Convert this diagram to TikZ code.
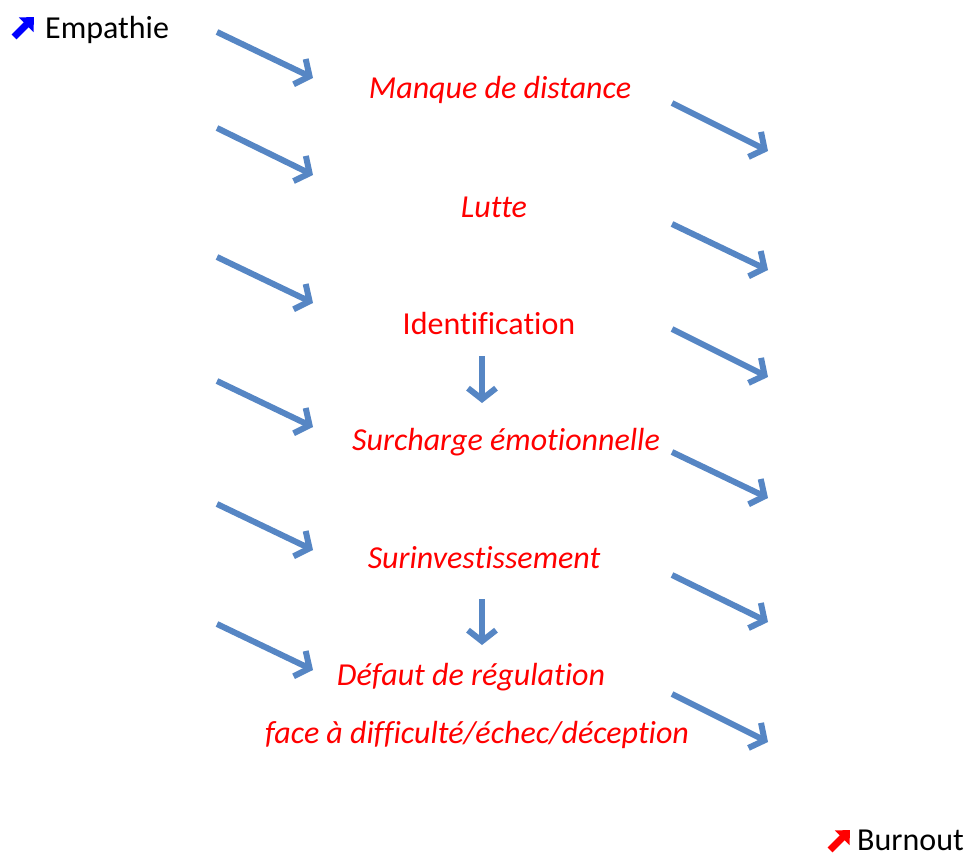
\documentclass[tikz,border=0pt]{standalone}
\usepackage{fontspec}
\setmainfont[Ligatures=NoCommon]{Carlito}
\usetikzlibrary{arrows.meta}
\newlength{\du}
\setlength{\du}{1pt}
\definecolor{arrowblue}{RGB}{86,134,196}
\definecolor{textred}{RGB}{255,0,0}
\definecolor{iconblue}{RGB}{0,0,255}
\tikzset{
  flow/.style={draw=arrowblue, line width=6pt, -{Straight Barb[length=11pt, width=28pt]}},
  icon/.style={line width=7pt, -{Triangle[length=11pt, width=20pt]}},
  stage/.style={text=textred, font=\fontsize{32}{38}\selectfont\itshape, inner sep=0pt},
  plain/.style={font=\fontsize{32}{38}\selectfont, inner sep=0pt},
}

\begin{document}
\begin{tikzpicture}
\pgftransformxscale{1.000000}
\pgftransformyscale{-1.000000}
\useasboundingbox (0\du,0\du) rectangle (971\du,859\du);
% start and end labels
\draw[icon, iconblue] (14\du,37\du)--(34\du,17\du);
\node[plain, anchor=base west] (empathie) at (45\du,38\du){Empathie};
\draw[icon, red] (830\du,850\du)--(850\du,830\du);
\node[plain, anchor=base east] (burnout) at (964\du,850\du){Burnout};
% stages
\node[stage] (distance) at (500\du,90\du){Manque de distance};
\node[stage] (lutte) at (494\du,207\du){Lutte};
\node[stage, font=\fontsize{32}{38}\selectfont] (ident) at (489\du,324\du){Identification};
\node[stage] (surcharge) at (506\du,442\du){Surcharge émotionnelle};
\node[stage] (surinv) at (484\du,558\du){Surinvestissement};
\node[stage] (defaut) at (471\du,677\du){Défaut de régulation};
\node[stage] (face) at (477\du,735\du){face à difficulté/échec/déception};
% left arrows
\coordinate (la1) at (217\du,32\du);
\coordinate (lb1) at (313\du,78\du);
\coordinate (la2) at (217\du,128\du);
\coordinate (lb2) at (313\du,175\du);
\coordinate (la3) at (217\du,257\du);
\coordinate (lb3) at (313\du,303\du);
\coordinate (la4) at (217\du,381\du);
\coordinate (lb4) at (313\du,427\du);
\coordinate (la5) at (217\du,504\du);
\coordinate (lb5) at (313\du,550\du);
\coordinate (la6) at (217\du,624\du);
\coordinate (lb6) at (313\du,670\du);
\draw[flow] (la1)--(lb1);
\draw[flow] (la2)--(lb2);
\draw[flow] (la3)--(lb3);
\draw[flow] (la4)--(lb4);
\draw[flow] (la5)--(lb5);
\draw[flow] (la6)--(lb6);
% right arrows
\coordinate (ra1) at (672\du,103\du);
\coordinate (rb1) at (768\du,151\du);
\coordinate (ra2) at (672\du,224\du);
\coordinate (rb2) at (768\du,270\du);
\coordinate (ra3) at (672\du,329\du);
\coordinate (rb3) at (768\du,377\du);
\coordinate (ra4) at (672\du,452\du);
\coordinate (rb4) at (768\du,498\du);
\coordinate (ra5) at (672\du,575\du);
\coordinate (rb5) at (768\du,622\du);
\coordinate (ra6) at (672\du,694\du);
\coordinate (rb6) at (768\du,742\du);
\draw[flow] (ra1)--(rb1);
\draw[flow] (ra2)--(rb2);
\draw[flow] (ra3)--(rb3);
\draw[flow] (ra4)--(rb4);
\draw[flow] (ra5)--(rb5);
\draw[flow] (ra6)--(rb6);
% down arrows
\coordinate (da1) at (482\du,356\du);
\coordinate (db1) at (482\du,403\du);
\coordinate (da2) at (482\du,599\du);
\coordinate (db2) at (482\du,645\du);
\draw[flow] (da1)--(db1);
\draw[flow] (da2)--(db2);
\end{tikzpicture}
\end{document}
